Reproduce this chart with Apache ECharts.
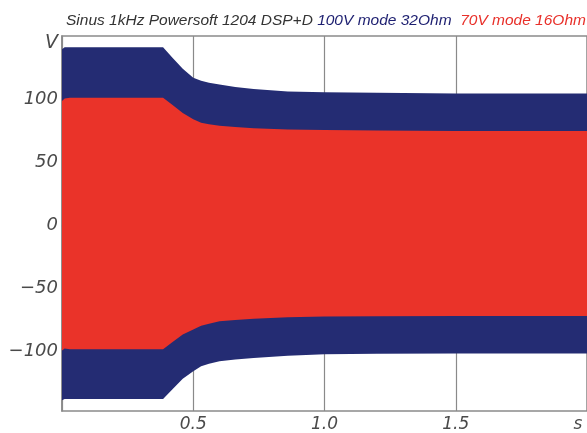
<!DOCTYPE html>
<html>
<head>
<meta charset="utf-8">
<script src="https://cdn.jsdelivr.net/npm/echarts@6/dist/echarts.min.js"></script>
<style>
html,body{margin:0;padding:0;background:#fff;}
#chart{width:587px;height:433px;}
</style>
</head>
<body>
<div id="chart"></div>
<script>
// time in seconds
const times      = [0, 0.01, 0.03, 0.385, 0.42, 0.46, 0.5, 0.53, 0.56, 0.6, 0.66, 0.73, 0.86, 1.0, 1.2, 1.5, 2.0];
// envelope of the 1 kHz sine, 100V mode 32Ohm (blue)
const blueUpper  = [139.5, 141, 141, 141, 133, 124, 117, 114.5, 113, 111.5, 109.6, 108, 106, 105.5, 105, 104.5, 104.5];
const blueLower  = [-138.5, -137.5, -137.5, -137.5, -130, -121.5, -115.5, -111.5, -109.5, -107.5, -106.2, -105, -103.2, -102, -101.7, -101.5, -101.5];
// envelope of the 1 kHz sine, 70V mode 16Ohm (red)
const redUpper   = [98.5, 100.5, 101, 101, 95.5, 89, 84, 81.3, 80.2, 79, 78, 77, 76, 75.5, 75.2, 74.8, 74.8];
const redLower   = [-99, -97.5, -98, -98, -92.5, -86.5, -82.5, -79.5, -77.8, -76, -75, -74, -72.8, -72.2, -72, -71.8, -71.8];
// tick labels
const yTicks     = [-100, -50, 0, 50, 100, 150];
const xTicks     = [0.5, 1.0, 1.5, 2.0];
const yUnit = 'V';
const xUnit = 's';
const titleParts = ['Sinus 1kHz Powersoft 1204 DSP+D', '100V mode 32Ohm', '70V mode 16Ohm'];

const BLUE = '#242c73';
const RED = '#ea3329';
const GRAY = '#8a8a8a';
const LABEL = '#4a4a4a';
const FONT = '"Liberation Sans", Arial, sans-serif';
const LFONT = '"DejaVu Sans", sans-serif';

// one envelope band (sine drawn as its filled envelope) through the axis scales
function bandSeries(name, lower, upper, color){
  return {
    name, type:'custom', coordinateSystem:'cartesian2d', silent:true, animation:false,
    clip:true,
    data: times.map((t,i)=>[t, lower[i], upper[i]]),
    encode:{x:0, y:[1,2]},
    renderItem:function(params, api){
      if (params.dataIndex !== 0) return null;
      const pts = [];
      for (let i=0;i<times.length;i++) pts.push(api.coord([times[i], upper[i]]));
      for (let i=times.length-1;i>=0;i--) pts.push(api.coord([times[i], lower[i]]));
      return {type:'polygon', shape:{points:pts}, style:{fill:color, stroke:null}};
    }
  };
}

function fmtNum(v){ return v<0 ? '\u2212'+Math.abs(v) : String(v); }

const chart = echarts.init(document.getElementById('chart'), null, {renderer:'canvas'});
chart.setOption({
  animation:false,
  title:{
    left:61, top:8,
    text:'{a|'+titleParts[0]+'} {b|'+titleParts[1]+'}  {c|'+titleParts[2]+'}',
    textStyle:{
      fontSize:15.5, fontStyle:'italic', fontFamily:FONT, fontWeight:'normal',
      rich:{
        a:{color:'#333333', fontSize:15.5, fontStyle:'italic', fontFamily:FONT},
        b:{color:'#1d1f70', fontSize:15.5, fontStyle:'italic', fontFamily:FONT},
        c:{color:'#e8302a', fontSize:15.5, fontStyle:'italic', fontFamily:FONT}
      }
    }
  },
  grid:{left:62, right:-2, top:36, bottom:19, show:true, borderColor:GRAY, borderWidth:1.5, backgroundColor:'#fff'},
  xAxis:{
    type:'value', min:0, max:2, interval:0.5,
    axisLine:{show:true, lineStyle:{color:GRAY, width:1.5}},
    axisTick:{show:false},
    splitLine:{show:true, lineStyle:{color:GRAY, width:1.2}},
    axisLabel:{
      show:true, margin:5, color:LABEL, fontSize:17, fontStyle:'italic', fontFamily:LFONT,
      showMinLabel:false, showMaxLabel:true,
      formatter:function(v){
        if (Math.abs(v-2)<1e-9) return '{s|'+xUnit+'}';
        if (xTicks.some(t=>Math.abs(t-v)<1e-9)) return v.toFixed(1);
        return '';
      },
      rich:{s:{color:LABEL, fontSize:17, fontStyle:'italic', fontFamily:LFONT, padding:[0,18,0,0]}}
    }
  },
  yAxis:{
    type:'value', min:-147, max:150,
    axisLine:{show:true, lineStyle:{color:GRAY, width:1.5}},
    axisTick:{show:false},
    splitLine:{show:false},
    axisLabel:{
      show:true, margin:4, color:LABEL, fontSize:18, fontStyle:'italic', fontFamily:LFONT,
      customValues:yTicks,
      formatter:function(v){
        if (v===150) return '{u|'+yUnit+'}';
        return fmtNum(v);
      },
      rich:{u:{color:LABEL, fontSize:19, fontStyle:'italic', fontFamily:LFONT, padding:[14,0,0,0]}}
    }
  },
  series:[
    bandSeries('100V mode 32Ohm', blueLower, blueUpper, BLUE),
    bandSeries('70V mode 16Ohm', redLower, redUpper, RED)
  ]
});
</script>
</body>
</html>
